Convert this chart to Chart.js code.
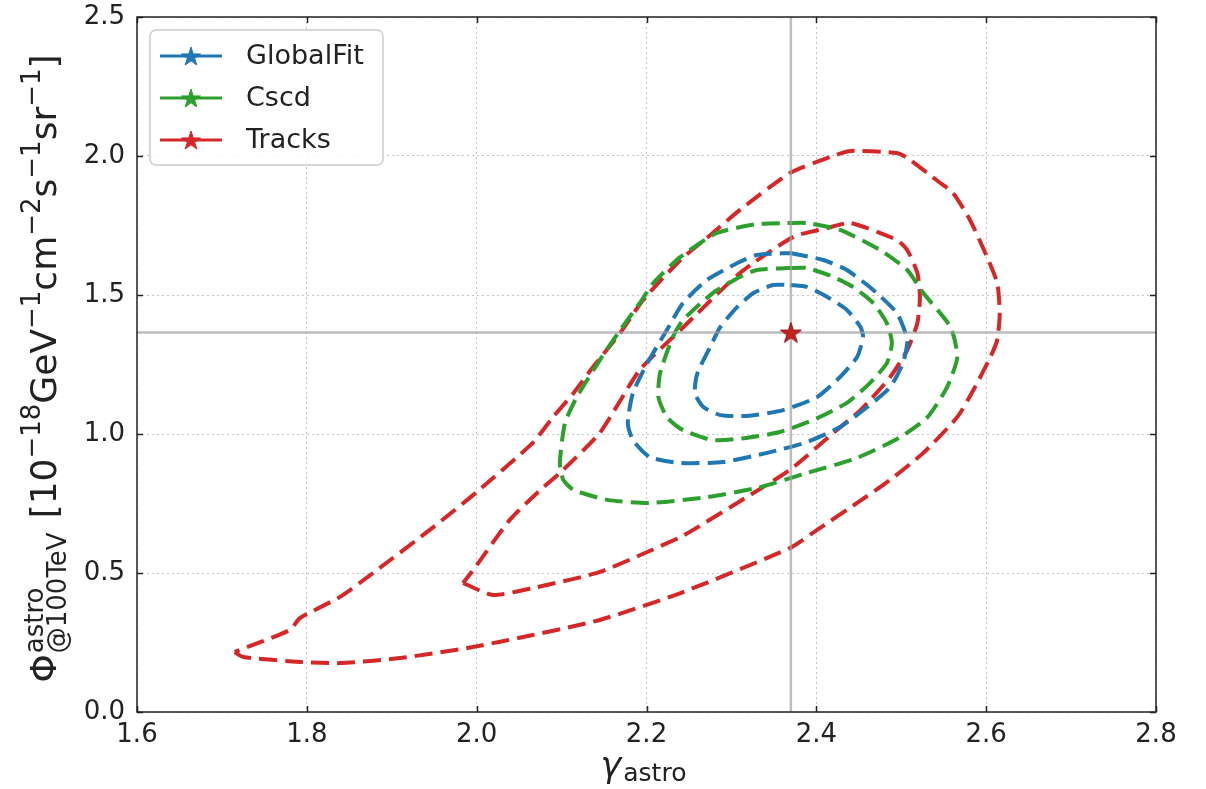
<!DOCTYPE html>
<html><head><meta charset="utf-8">
<script src="https://cdn.jsdelivr.net/npm/chart.js@4.4.1/dist/chart.umd.min.js"></script>
<style>html,body{margin:0;padding:0;background:#fff;} #wrap{width:1206px;height:789px;position:relative;}</style>
</head><body><div id="wrap"><canvas id="c" width="1206" height="789"></canvas></div>
<script>
// ---------- data ----------
const xTickValues = [1.6, 1.8, 2.0, 2.2, 2.4, 2.6, 2.8];
const yTickValues = [0.0, 0.5, 1.0, 1.5, 2.0, 2.5];
const seriesNames = ['GlobalFit', 'Cscd', 'Tracks'];
const seriesColors = ['#1f77b4', '#2ca02c', '#d62728'];

const globalFitInnerGamma = [2.369,2.389,2.413,2.436,2.452,2.455,2.448,2.428,2.401,2.361,2.318,2.287,2.267,2.257,2.260,2.275,2.287,2.307,2.326,2.349];
const globalFitInnerPhi   = [1.536,1.529,1.493,1.446,1.385,1.349,1.277,1.205,1.133,1.086,1.065,1.068,1.097,1.147,1.219,1.313,1.385,1.457,1.507,1.536];

const globalFitOuterGamma = [2.369,2.408,2.436,2.467,2.495,2.505,2.507,2.502,2.487,2.460,2.428,2.389,2.342,2.290,2.240,2.204,2.184,2.178,2.184,2.201,2.224,2.243,2.271,2.307,2.330];
const globalFitOuterPhi   = [1.651,1.626,1.590,1.518,1.435,1.363,1.327,1.255,1.169,1.097,1.025,0.971,0.932,0.899,0.896,0.917,0.978,1.040,1.147,1.255,1.374,1.471,1.554,1.615,1.644];

const cscdInnerGamma = [2.366,2.389,2.420,2.443,2.467,2.483,2.489,2.483,2.463,2.436,2.396,2.357,2.318,2.278,2.243,2.224,2.214,2.216,2.231,2.243,2.278,2.310,2.330];
const cscdInnerPhi   = [1.597,1.597,1.565,1.529,1.471,1.399,1.327,1.255,1.183,1.112,1.050,1.007,0.986,0.978,1.014,1.061,1.133,1.219,1.349,1.410,1.507,1.565,1.590];

const cscdOuterGamma = [2.366,2.389,2.428,2.475,2.507,2.526,2.558,2.566,2.554,2.531,2.499,2.448,2.389,2.330,2.271,2.204,2.154,2.114,2.102,2.098,2.104,2.118,2.145,2.169,2.192,2.208,2.240,2.283,2.330];
const cscdOuterPhi   = [1.759,1.759,1.734,1.662,1.590,1.507,1.385,1.277,1.169,1.061,0.989,0.914,0.860,0.806,0.773,0.752,0.763,0.799,0.835,0.896,1.040,1.133,1.266,1.374,1.471,1.543,1.637,1.723,1.755];

const tracksInnerGamma = [1.984,2.019,2.066,2.145,2.240,2.255,2.318,2.369,2.420,2.452,2.487,2.507,2.519,2.522,2.519,2.507,2.495,2.440,2.413,2.373,2.310,2.240,2.192,2.145,2.098,2.075,2.039,1.996];
const tracksInnerPhi   = [0.464,0.421,0.446,0.504,0.629,0.655,0.773,0.871,1.004,1.086,1.205,1.302,1.399,1.493,1.579,1.662,1.698,1.759,1.741,1.709,1.579,1.374,1.230,1.004,0.860,0.799,0.691,0.511];

const tracksOuterGamma = [1.715,1.725,1.792,1.839,1.910,1.989,2.066,2.145,2.240,2.369,2.401,2.448,2.487,2.526,2.566,2.585,2.605,2.613,2.616,2.613,2.601,2.581,2.561,2.546,2.507,2.495,2.440,2.416,2.369,2.310,2.278,2.240,2.196,2.169,2.137,2.114,2.090,2.066,2.000,1.949,1.878,1.839,1.792,1.780];
const tracksOuterPhi   = [0.216,0.198,0.180,0.176,0.194,0.230,0.277,0.331,0.428,0.590,0.655,0.752,0.835,0.932,1.061,1.158,1.277,1.338,1.435,1.543,1.637,1.770,1.867,1.903,1.993,2.011,2.018,1.996,1.939,1.806,1.723,1.626,1.482,1.363,1.241,1.147,1.061,0.968,0.791,0.665,0.500,0.414,0.338,0.295];

const bestFitGamma = [2.37];
const bestFitPhi = [1.365];

// ---------- helpers ----------
function closed(xs, ys) {
  const pts = xs.map((x, i) => ({x: x, y: ys[i]}));
  pts.push({x: xs[0], y: ys[0]});
  return pts;
}
function starPath(g, cx, cy, r) {
  const ri = r * 0.382;
  g.beginPath();
  for (let k = 0; k < 10; k++) {
    const rr = (k % 2 === 0) ? r : ri;
    const a = -Math.PI / 2 + k * Math.PI / 5;
    const px = cx + rr * Math.cos(a), py = cy + rr * Math.sin(a);
    if (k === 0) g.moveTo(px, py); else g.lineTo(px, py);
  }
  g.closePath();
}
function starCanvas(r, fill, stroke) {
  const s = Math.ceil(2 * r + 4);
  const c = document.createElement('canvas');
  c.width = s; c.height = s;
  const g = c.getContext('2d');
  starPath(g, s / 2, s / 2 + 1, r);
  g.fillStyle = fill; g.fill();
  g.lineWidth = 1; g.strokeStyle = stroke; g.stroke();
  return c;
}

function contour(label, color, xs, ys) {
  return {
    label: label, data: closed(xs, ys), showLine: true, fill: false,
    borderColor: color, backgroundColor: color, borderWidth: 4,
    borderDash: [18, 8], borderCapStyle: 'butt', pointRadius: 0, pointHoverRadius: 0,
    tension: 0.2, order: 3
  };
}

const datasets = [
  contour('GlobalFit', seriesColors[0], globalFitInnerGamma, globalFitInnerPhi),
  contour('GlobalFit', seriesColors[0], globalFitOuterGamma, globalFitOuterPhi),
  contour('Cscd', seriesColors[1], cscdInnerGamma, cscdInnerPhi),
  contour('Cscd', seriesColors[1], cscdOuterGamma, cscdOuterPhi),
  contour('Tracks', seriesColors[2], tracksInnerGamma, tracksInnerPhi),
  contour('Tracks', seriesColors[2], tracksOuterGamma, tracksOuterPhi),
  { label: 'vline', data: [{x: bestFitGamma[0], y: yTickValues[0]}, {x: bestFitGamma[0], y: yTickValues[yTickValues.length - 1]}],
    showLine: true, borderColor: 'rgba(160,160,160,0.7)', borderWidth: 2.5, pointRadius: 0, order: 2 },
  { label: 'hline', data: [{x: xTickValues[0], y: bestFitPhi[0]}, {x: xTickValues[xTickValues.length - 1], y: bestFitPhi[0]}],
    showLine: true, borderColor: 'rgba(160,160,160,0.7)', borderWidth: 2.5, pointRadius: 0, order: 2 },
  { label: 'best', data: [{x: bestFitGamma[0], y: bestFitPhi[0]}], showLine: false,
    pointStyle: starCanvas(11, '#c62222', '#8a1010'), pointRadius: 11, order: 1 }
];

// ---------- decoration plugin ----------
const FONT = '"DejaVu Sans", sans-serif';
const decor = {
  id: 'decor',
  afterDraw(chart) {
    const g = chart.ctx;
    const a = chart.chartArea;
    const xs = chart.scales.x, ys = chart.scales.y;
    g.save();
    // frame
    g.setLineDash([]);
    g.strokeStyle = '#222'; g.lineWidth = 1.5;
    g.strokeRect(a.left, a.top, a.right - a.left, a.bottom - a.top);
    // inward ticks
    const tl = 6;
    g.beginPath();
    xTickValues.forEach(v => {
      const p = Math.round(xs.getPixelForValue(v)) + 0.5;
      g.moveTo(p, a.bottom); g.lineTo(p, a.bottom - tl);
      g.moveTo(p, a.top); g.lineTo(p, a.top + tl);
    });
    yTickValues.forEach(v => {
      const p = Math.round(ys.getPixelForValue(v)) + 0.5;
      g.moveTo(a.left, p); g.lineTo(a.left + tl, p);
      g.moveTo(a.right, p); g.lineTo(a.right - tl, p);
    });
    g.stroke();

    // legend
    const lx = 150, ly = 30, lw = 233, lh = 135;
    g.beginPath();
    g.roundRect(lx, ly, lw, lh, 6);
    g.fillStyle = 'rgba(255,255,255,0.85)'; g.fill();
    g.strokeStyle = '#cccccc'; g.lineWidth = 1.5; g.stroke();
    seriesNames.forEach((name, i) => {
      const y = 56 + 42 * i;
      g.beginPath(); g.moveTo(160, y); g.lineTo(222, y);
      g.strokeStyle = seriesColors[i]; g.lineWidth = 3; g.stroke();
      starPath(g, 191, y + 1, 10);
      g.fillStyle = seriesColors[i]; g.fill();
      g.lineWidth = 1; g.stroke();
      g.fillStyle = '#222'; g.font = '27px ' + FONT;
      g.textAlign = 'left'; g.textBaseline = 'middle';
      g.fillText(name, 246, y + 1);
    });

    // x title: gamma_astro
    g.textBaseline = 'alphabetic';
    const gBig = 'italic 35px ' + FONT, gSub = '25px ' + FONT;
    g.font = gBig; const wG = g.measureText('γ').width;
    g.font = gSub; const wS = g.measureText('astro').width;
    const xc = (a.left + a.right) / 2 - 3;
    let x0 = xc - (wG + 2 + wS) / 2;
    g.fillStyle = '#222';
    g.font = gBig; g.fillText('γ', x0, 777);
    g.font = gSub; g.fillText('astro', x0 + wG + 2, 781);

    // y title (rotated)
    const M = 36, S = 26;
    const mf = M + 'px ' + FONT, sf = S + 'px ' + FONT;
    g.font = mf; const wPhi = g.measureText('Φ').width;
    g.font = sf; const wSupA = g.measureText('astro').width, wSub = g.measureText('@100TeV').width;
    const seq = [['[10', 0], ['−18', 1], ['GeV', 0], ['−1', 1], ['cm', 0], ['−2', 1], ['s', 0], ['−1', 1], ['sr', 0], ['−1', 1], [']', 0]];
    let total = wPhi + 1 + Math.max(wSupA, wSub) + 14;
    seq.forEach(p => { g.font = p[1] ? sf : mf; p.push(g.measureText(p[0]).width); total += p[2]; });
    const yc = (a.top + a.bottom) / 2 + 4;
    g.translate(56, yc + total / 2);
    g.rotate(-Math.PI / 2);
    let t = 0;
    g.font = mf; g.fillText('Φ', t, 0); t += wPhi + 1;
    g.font = sf; g.fillText('astro', t, -13); g.fillText('@100TeV', t, 10);
    t += Math.max(wSupA, wSub) + 14;
    seq.forEach(p => {
      g.font = p[1] ? sf : mf;
      g.fillText(p[0], t, p[1] ? -16 : 0);
      t += p[2];
    });
    g.restore();
  }
};

new Chart(document.getElementById('c'), {
  type: 'scatter',
  data: { datasets: datasets },
  options: {
    responsive: false, animation: false, events: [],
    layout: { padding: { top: 17, right: 50, left: 0, bottom: 0 } },
    plugins: { legend: { display: false }, tooltip: { enabled: false } },
    scales: {
      x: {
        type: 'linear', min: xTickValues[0], max: xTickValues[xTickValues.length - 1],
        afterBuildTicks: s => { s.ticks = xTickValues.map(v => ({value: v})); },
        afterFit: s => { s.height = 77; s.paddingLeft = 0; s.paddingRight = 0; },
        ticks: { autoSkip: false, maxRotation: 0, padding: 8, color: '#222', font: { family: 'DejaVu Sans', size: 26 }, callback: v => Number(v).toFixed(1) },
        grid: { drawTicks: false, color: '#c4c4c4', lineWidth: 1 },
        border: { display: false, dash: [2, 3] }
      },
      y: {
        type: 'linear', min: yTickValues[0], max: yTickValues[yTickValues.length - 1],
        afterBuildTicks: s => { s.ticks = yTickValues.map(v => ({value: v})); },
        afterFit: s => { s.width = 137; s.paddingTop = 0; s.paddingBottom = 0; },
        ticks: { autoSkip: false, padding: 12, color: '#222', font: { family: 'DejaVu Sans', size: 26 }, callback: v => Number(v).toFixed(1) },
        grid: { drawTicks: false, color: '#c4c4c4', lineWidth: 1 },
        border: { display: false, dash: [2, 3] }
      }
    }
  },
  plugins: [decor]
});
</script>
</body></html>
